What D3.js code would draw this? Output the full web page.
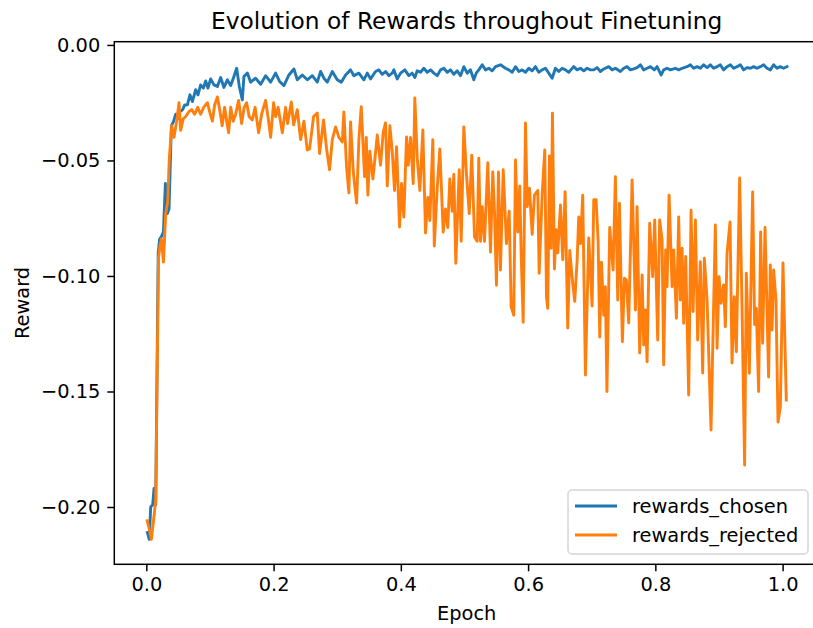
<!doctype html>
<html>
  <head>
    <meta charset="utf-8">
    <title>Evolution of Rewards throughout Finetuning</title>
    <script src="https://cdnjs.cloudflare.com/ajax/libs/d3/7.8.5/d3.min.js"></script>
    <style>
      body { margin: 0; background: #fff; }
      text { font-family: "DejaVu Sans", sans-serif; fill: #000; }
    </style>
  </head>
  <body>
    <div id="chart"></div>

    <script>

      // data: epoch and reward for each series
      const chosenEpoch = [0.0017,0.0046,0.0069,0.0101,0.0121,0.0148,0.0187,0.0210,0.0237,0.0269,0.0300,0.0331,0.0357,0.0394,0.0430,0.0462,0.0493,0.0525,0.0572,0.0603,
        0.0646,0.0686,0.0724,0.0776,0.0812,0.0854,0.0897,0.0933,0.0969,0.1011,0.1063,0.1117,0.1169,0.1220,0.1274,0.1326,0.1368,0.1420,0.1462,0.1509,
        0.1534,0.1588,0.1640,0.1718,0.1797,0.1875,0.1954,0.2032,0.2095,0.2163,0.2241,0.2320,0.2373,0.2452,0.2530,0.2609,0.2687,0.2739,0.2791,0.2844,
        0.2923,0.3001,0.3064,0.3132,0.3210,0.3262,0.3341,0.3419,0.3473,0.3524,0.3603,0.3655,0.3708,0.3760,0.3812,0.3865,0.3890,0.3944,0.3996,0.4063,
        0.4126,0.4179,0.4220,0.4258,0.4310,0.4362,0.4415,0.4467,0.4519,0.4572,0.4624,0.4676,0.4729,0.4781,0.4833,0.4886,0.4938,0.4990,0.5043,0.5095,
        0.5147,0.5185,0.5225,0.5279,0.5331,0.5382,0.5436,0.5488,0.5566,0.5645,0.5697,0.5750,0.5802,0.5854,0.5907,0.5959,0.6011,0.6064,0.6116,0.6168,
        0.6221,0.6273,0.6325,0.6378,0.6430,0.6482,0.6535,0.6587,0.6639,0.6717,0.6771,0.6823,0.6875,0.6928,0.6980,0.7032,0.7085,0.7137,0.7189,0.7267,
        0.7321,0.7372,0.7451,0.7503,0.7556,0.7608,0.7660,0.7713,0.7765,0.7817,0.7870,0.7922,0.7985,0.8027,0.8090,0.8131,0.8184,0.8236,0.8315,0.8367,
        0.8420,0.8499,0.8550,0.8602,0.8656,0.8707,0.8759,0.8813,0.8864,0.8916,0.8970,0.9021,0.9073,0.9127,0.9179,0.9231,0.9284,0.9336,0.9388,0.9441,
        0.9493,0.9545,0.9598,0.9650,0.9702,0.9755,0.9807,0.9859,0.9912,0.9964,1.0016,1.0069];

      const chosenReward = [-0.211,-0.214,-0.200,-0.199,-0.192,-0.199,-0.090,-0.084,-0.083,-0.081,-0.060,-0.073,-0.071,-0.035,-0.033,-0.030,-0.032,-0.029,-0.028,-0.026,
        -0.0259,-0.0216,-0.0245,-0.0194,-0.0216,-0.0173,-0.0187,-0.0156,-0.0187,-0.0147,-0.0173,-0.0180,-0.0141,-0.0184,-0.0151,-0.0176,-0.0144,-0.0101,-0.0180,-0.0238,
        -0.0137,-0.0122,-0.0161,-0.0144,-0.0170,-0.0133,-0.0161,-0.0122,-0.0158,-0.0176,-0.0130,-0.0104,-0.0151,-0.0130,-0.0151,-0.0133,-0.0161,-0.0115,-0.0144,-0.0161,
        -0.0115,-0.0151,-0.0161,-0.0130,-0.0108,-0.0133,-0.0122,-0.0151,-0.0122,-0.0147,-0.0115,-0.0108,-0.0127,-0.0115,-0.0133,-0.0122,-0.0108,-0.0147,-0.0122,-0.0108,
        -0.0133,-0.0122,-0.0141,-0.0112,-0.0118,-0.0101,-0.0118,-0.0108,-0.0122,-0.0133,-0.0108,-0.0101,-0.0118,-0.0108,-0.0127,-0.0112,-0.0133,-0.0094,-0.0122,-0.0108,
        -0.0151,-0.0122,-0.0108,-0.0086,-0.0108,-0.0101,-0.0112,-0.0094,-0.0086,-0.0101,-0.0108,-0.0118,-0.0094,-0.0115,-0.0108,-0.0118,-0.0101,-0.0112,-0.0094,-0.0118,
        -0.0108,-0.0101,-0.0122,-0.0144,-0.0101,-0.0115,-0.0101,-0.0108,-0.0118,-0.0094,-0.0108,-0.0101,-0.0112,-0.0101,-0.0108,-0.0108,-0.0098,-0.0115,-0.0104,-0.0094,
        -0.0108,-0.0101,-0.0115,-0.0101,-0.0094,-0.0108,-0.0104,-0.0098,-0.0086,-0.0108,-0.0101,-0.0094,-0.0108,-0.0094,-0.0130,-0.0108,-0.0101,-0.0108,-0.0101,-0.0108,
        -0.0101,-0.0094,-0.0086,-0.0101,-0.0094,-0.0101,-0.0086,-0.0098,-0.0086,-0.0101,-0.0094,-0.0086,-0.0108,-0.0094,-0.0086,-0.0101,-0.0094,-0.0086,-0.0108,-0.0098,
        -0.0101,-0.0094,-0.0101,-0.0094,-0.0086,-0.0101,-0.0108,-0.0086,-0.0101,-0.0094,-0.0101,-0.0094];

      const rejectedEpoch = [0.0014,0.0042,0.0080,0.0121,0.0148,0.0192,0.0215,0.0237,0.0269,0.0305,0.0336,0.0360,0.0399,0.0435,0.0477,0.0514,0.0540,0.0580,0.0619,0.0666,
        0.0713,0.0760,0.0807,0.0854,0.0902,0.0960,0.0996,0.1038,0.1074,0.1117,0.1153,0.1192,0.1231,0.1263,0.1294,0.1326,0.1365,0.1404,0.1451,0.1498,
        0.1538,0.1577,0.1616,0.1666,0.1710,0.1765,0.1812,0.1875,0.1922,0.1954,0.2001,0.2032,0.2072,0.2138,0.2189,0.2221,0.2279,0.2315,0.2373,0.2425,
        0.2477,0.2530,0.2566,0.2629,0.2687,0.2723,0.2786,0.2833,0.2880,0.2923,0.2975,0.3027,0.3080,0.3105,0.3147,0.3184,0.3210,0.3253,0.3305,0.3341,
        0.3378,0.3430,0.3457,0.3482,0.3513,0.3561,0.3630,0.3681,0.3724,0.3760,0.3787,0.3828,0.3865,0.3901,0.3933,0.3980,0.4011,0.4047,0.4090,0.4117,
        0.4153,0.4195,0.4220,0.4258,0.4299,0.4346,0.4388,0.4424,0.4456,0.4503,0.4526,0.4572,0.4613,0.4666,0.4702,0.4738,0.4770,0.4808,0.4833,0.4864,
        0.4918,0.4949,0.4990,0.5032,0.5075,0.5115,0.5158,0.5200,0.5225,0.5252,0.5279,0.5315,0.5367,0.5409,0.5445,0.5472,0.5503,0.5535,0.5566,0.5609,
        0.5660,0.5703,0.5734,0.5775,0.5802,0.5838,0.5869,0.5891,0.5923,0.5959,0.5986,0.6022,0.6064,0.6100,0.6152,0.6174,0.6221,0.6262,0.6289,0.6309,
        0.6336,0.6362,0.6383,0.6414,0.6441,0.6466,0.6509,0.6545,0.6582,0.6623,0.6655,0.6697,0.6733,0.6771,0.6796,0.6823,0.6859,0.6901,0.6953,0.7006,
        0.7032,0.7069,0.7101,0.7126,0.7153,0.7189,0.7215,0.7239,0.7283,0.7336,0.7372,0.7409,0.7435,0.7482,0.7514,0.7545,0.7581,0.7635,0.7687,0.7713,
        0.7754,0.7792,0.7817,0.7844,0.7870,0.7911,0.7958,0.7990,0.8037,0.8068,0.8106,0.8131,0.8162,0.8184,0.8216,0.8263,0.8288,0.8331,0.8367,0.8393,
        0.8420,0.8445,0.8477,0.8524,0.8561,0.8593,0.8629,0.8665,0.8707,0.8744,0.8770,0.8813,0.8875,0.8943,0.8970,0.9001,0.9033,0.9073,0.9100,0.9127,
        0.9174,0.9205,0.9241,0.9273,0.9325,0.9362,0.9403,0.9430,0.9477,0.9529,0.9560,0.9587,0.9623,0.9655,0.9686,0.9724,0.9780,0.9807,0.9834,0.9859,
        0.9896,0.9928,0.9964,1.0006,1.0058];

      const rejectedReward = [-0.206,-0.209,-0.214,-0.204,-0.197,-0.092,-0.087,-0.084,-0.094,-0.073,-0.068,-0.050,-0.035,-0.040,-0.033,-0.025,-0.037,-0.032,-0.031,-0.029,
        -0.028,-0.030,-0.027,-0.030,-0.027,-0.025,-0.029,-0.033,-0.026,-0.0225,-0.028,-0.035,-0.027,-0.033,-0.038,-0.027,-0.033,-0.030,-0.024,-0.034,
        -0.027,-0.025,-0.031,-0.0325,-0.027,-0.038,-0.030,-0.024,-0.033,-0.040,-0.025,-0.031,-0.027,-0.038,-0.027,-0.034,-0.0247,-0.0346,-0.028,-0.041,
        -0.033,-0.0455,-0.045,-0.031,-0.0295,-0.047,-0.0325,-0.045,-0.054,-0.041,-0.0355,-0.040,-0.042,-0.029,-0.0528,-0.064,-0.0333,-0.055,-0.0684,-0.041,
        -0.0267,-0.057,-0.040,-0.065,-0.046,-0.058,-0.039,-0.052,-0.0376,-0.0337,-0.061,-0.035,-0.046,-0.063,-0.044,-0.0788,-0.060,-0.0745,-0.0398,-0.052,
        -0.040,-0.060,-0.023,-0.049,-0.063,-0.0368,-0.0814,-0.066,-0.076,-0.041,-0.087,-0.062,-0.045,-0.081,-0.071,-0.079,-0.058,-0.072,-0.056,-0.0945,
        -0.054,-0.085,-0.0355,-0.056,-0.073,-0.0477,-0.083,-0.085,-0.049,-0.085,-0.070,-0.085,-0.051,-0.0897,-0.055,-0.072,-0.104,-0.055,-0.0974,-0.054,
        -0.086,-0.072,-0.1134,-0.117,-0.0498,-0.081,-0.061,-0.090,-0.120,-0.0338,-0.070,-0.062,-0.082,-0.065,-0.063,-0.0988,-0.065,-0.0455,-0.109,-0.114,
        -0.048,-0.088,-0.0295,-0.097,-0.080,-0.090,-0.0693,-0.093,-0.0635,-0.1225,-0.089,-0.102,-0.111,-0.093,-0.0745,-0.086,-0.065,-0.1429,-0.0835,-0.113,
        -0.067,-0.067,-0.085,-0.1264,-0.094,-0.117,-0.1046,-0.150,-0.079,-0.0974,-0.057,-0.1104,-0.0685,-0.1285,-0.101,-0.1017,-0.1203,-0.0584,-0.1147,-0.070,
        -0.1333,-0.0996,-0.1299,-0.1147,-0.1371,-0.0772,-0.1003,-0.0758,-0.1277,-0.0758,-0.0844,-0.1385,-0.0887,-0.1046,-0.065,-0.1046,-0.0887,-0.1183,-0.0745,-0.1104,
        -0.088,-0.1205,-0.0916,-0.1515,-0.0715,-0.1154,-0.0758,-0.1277,-0.0938,-0.142,-0.0923,-0.1104,-0.1667,-0.0779,-0.1313,-0.1003,-0.1118,-0.1039,-0.122,-0.0902,
        -0.0766,-0.1377,-0.109,-0.1328,-0.0576,-0.1133,-0.1818,-0.0988,-0.1421,-0.0636,-0.121,-0.114,-0.150,-0.081,-0.1291,-0.079,-0.1437,-0.0952,-0.1234,-0.0974,
        -0.1104,-0.1632,-0.1566,-0.0944,-0.1537];

      const seriesNames = ['rewards_chosen', 'rewards_rejected'];
      const seriesColors = ['#1f77b4', '#ff7f0e'];
      const xTicks = [0, 0.2, 0.4, 0.6, 0.8, 1.0];
      const yTicks = [0, -0.05, -0.10, -0.15, -0.20];

      // svg + plot area
      const width = 813, height = 628;
      const plotLeft = 114.3, plotTop = 41.7, plotRight = 819, plotBottom = 564.3;
      const fontSize = 19.4;

      const svg = d3.select('#chart')
        .append('svg')
        .attr('width', width)
        .attr('height', height);

      const x = d3.scaleLinear().domain([-0.0503, 1.0572]).range([plotLeft, plotRight]);
      const y = d3.scaleLinear().domain([-0.2248, 0.0014]).range([plotBottom, plotTop]);

      // the two lines
      const series = [
        chosenEpoch.map((e, i) => [e, chosenReward[i]]),
        rejectedEpoch.map((e, i) => [e, rejectedReward[i]])
      ];

      const line = d3.line().x(d => x(d[0])).y(d => y(d[1]));

      svg.selectAll('path.series')
        .data(series)
        .join('path')
        .attr('class', 'series')
        .attr('d', line)
        .attr('fill', 'none')
        .attr('stroke', (d, i) => seriesColors[i])
        .attr('stroke-width', 2.9)
        .attr('stroke-linejoin', 'round')
        .attr('stroke-linecap', 'square');

      // axes
      const xAxis = svg.append('g')
        .attr('transform', `translate(0,${plotBottom})`)
        .call(d3.axisBottom(x).tickValues(xTicks).tickFormat(d3.format('.1f')).tickSize(7).tickPadding(6).tickSizeOuter(0));

      const yAxis = svg.append('g')
        .attr('transform', `translate(${plotLeft},0)`)
        .call(d3.axisLeft(y).tickValues(yTicks).tickFormat(d3.format('.2f')).tickSize(7).tickPadding(7).tickSizeOuter(0));

      [xAxis, yAxis].forEach(g => {
        g.selectAll('.domain').remove();
        g.selectAll('line').attr('stroke', '#000').attr('stroke-width', 1.5);
        g.selectAll('text').attr('font-size', fontSize).attr('font-family', '"DejaVu Sans", sans-serif').attr('fill', '#000');
      });

      // frame (spines)
      svg.append('rect')
        .attr('x', plotLeft)
        .attr('y', plotTop)
        .attr('width', plotRight - plotLeft)
        .attr('height', plotBottom - plotTop)
        .attr('fill', 'none')
        .attr('stroke', '#000')
        .attr('stroke-width', 1.5);

      // title and axis labels
      svg.append('text')
        .attr('x', (plotLeft + plotRight) / 2)
        .attr('y', 29)
        .attr('text-anchor', 'middle')
        .attr('font-size', 23.3)
        .text('Evolution of Rewards throughout Finetuning');

      svg.append('text')
        .attr('x', (plotLeft + plotRight) / 2)
        .attr('y', 620)
        .attr('text-anchor', 'middle')
        .attr('font-size', fontSize)
        .text('Epoch');

      svg.append('text')
        .attr('transform', `translate(29,${(plotTop + plotBottom) / 2}) rotate(-90)`)
        .attr('text-anchor', 'middle')
        .attr('font-size', fontSize)
        .text('Reward');

      // legend
      const legend = svg.append('g');

      legend.append('rect')
        .attr('x', 568)
        .attr('y', 490)
        .attr('width', 240)
        .attr('height', 64)
        .attr('rx', 4)
        .attr('fill', '#fff')
        .attr('fill-opacity', 0.8)
        .attr('stroke', '#d5d5d5')
        .attr('stroke-width', 1.5);

      const rows = legend.selectAll('g.row')
        .data(seriesNames)
        .join('g')
        .attr('class', 'row')
        .attr('transform', (d, i) => `translate(0,${506 + i * 29})`);

      rows.append('line')
        .attr('x1', 575)
        .attr('x2', 617)
        .attr('stroke', (d, i) => seriesColors[i])
        .attr('stroke-width', 2.9);

      rows.append('text')
        .attr('x', 632)
        .attr('y', 7)
        .attr('font-size', fontSize)
        .text(d => d);

    </script>
  </body>
</html>
